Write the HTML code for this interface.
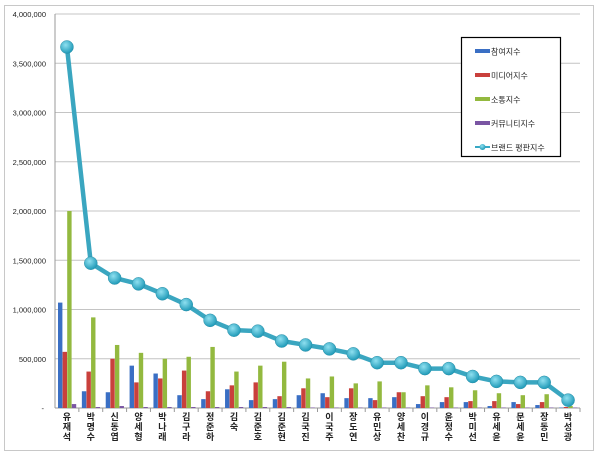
<!DOCTYPE html>
<html><head><meta charset="utf-8"><style>
body{margin:0;background:#fff;}
svg text{font-family:"Liberation Sans","Noto Sans CJK KR",sans-serif;}
</style></head><body>
<svg id="s" width="600" height="455" xmlns="http://www.w3.org/2000/svg">
<defs>
<radialGradient id="m" cx="40%" cy="35%" r="65%"><stop offset="0" stop-color="#8fe0f0"/><stop offset="1" stop-color="#1f9ab8"/></radialGradient>
</defs>
<rect x="4.5" y="5.5" width="589" height="445" fill="#fff" stroke="#c8c8c8"/>
</svg>
<script>
const s=document.getElementById('s');const NS='http://www.w3.org/2000/svg';
function el(t,a,txt){const e=document.createElementNS(NS,t);for(const k in a)e.setAttribute(k,a[k]);if(txt!==undefined)e.textContent=txt;s.appendChild(e);return e;}
const L=55,R=580,T=14,B=408;const Y=v=>B-(v/4e6)*(B-T);
const ticks=['-','500,000','1,000,000','1,500,000','2,000,000','2,500,000','3,000,000','3,500,000','4,000,000'];
for(let i=0;i<=8;i++){const y=Y(i*5e5);if(i>0)el('line',{x1:L,x2:R,y1:y,y2:y,stroke:'#c4c4c4','stroke-width':1});
el('text',{x:i==0?44:46,y:y+3,'font-size':7.5,'text-anchor':'end',fill:'#222'},ticks[i]);}
el('line',{x1:L,x2:L,y1:T,y2:B,stroke:'#999'});el('line',{x1:L,x2:R,y1:B,y2:B,stroke:'#999'});
const names=['유재석','박명수','신동엽','양세형','박나래','김구라','정준하','김숙','김준호','김준현','김국진','이국주','장도연','유민상','양세찬','이경규','윤정수','박미선','유세윤','문세윤','장동민','박성광'];
const line=[3.665,1.47,1.32,1.26,1.16,1.05,0.89,0.79,0.78,0.68,0.64,0.6,0.55,0.46,0.46,0.4,0.4,0.32,0.27,0.26,0.26,0.08];
const bars=[[1.07,.57,2.0,.04],[.17,.37,.92,.01],[.16,.5,.64,.02],[.43,.26,.56,.01],[.35,.3,.5,.01],[.13,.38,.52,.01],[.09,.17,.62,.01],[.19,.23,.37,.01],[.08,.26,.43,.01],[.09,.12,.47,.01],[.13,.2,.3,.005],[.15,.11,.32,.005],[.1,.2,.25,.005],[.1,.08,.27,.005],[.11,.16,.16,.005],[.04,.12,.23,.005],[.06,.11,.21,.005],[.06,.07,.18,.005],[.02,.07,.15,.005],[.06,.04,.13,.005],[.03,.06,.14,.005],[.005,.01,.02,.005]];
const cols=['#3a6fc4','#c9403c','#93b93f','#7a55a3'];
const w=(R-L)/22;
for(let i=0;i<22;i++){const x0=L+i*w;el('line',{x1:x0+w,x2:x0+w,y1:B,y2:B+4,stroke:'#999'});
for(let j=0;j<4;j++){const v=bars[i][j]*1e6;const y=Y(v);el('rect',{x:x0+3+j*4.6,y:y,width:4.4,height:B-y,fill:cols[j]});}
const cx=x0+w/2;const n=names[i];for(let k=0;k<n.length;k++)el('text',{x:cx,y:420+k*10,'font-size':9,'text-anchor':'middle',fill:'#222','font-weight':'bold'},n[k]);}
el('polyline',{points:line.map((v,i)=>(L+i*w+w/2)+','+Y(v*1e6)).join(' '),fill:'none',stroke:'#3aa6c0','stroke-width':4.5,'stroke-linejoin':'round'});
line.forEach((v,i)=>el('circle',{cx:L+i*w+w/2,cy:Y(v*1e6),r:6.5,fill:'url(#m)',stroke:'#2a8fa8','stroke-width':0.5}));
el('rect',{x:461.5,y:37.5,width:99,height:119,fill:'#fff',stroke:'#000','stroke-width':1.2});
const lg=['참여지수','미디어지수','소통지수','커뮤니티지수','브랜드 평판지수'];
lg.forEach((t,i)=>{const y=51+i*24;if(i<4)el('rect',{x:475,y:y-2,width:15,height:4,fill:cols[i]});else{el('line',{x1:475,x2:490,y1:y,y2:y,stroke:'#37a8c4','stroke-width':2});el('circle',{cx:482.5,cy:y,r:3,fill:'url(#m)'});}
el('text',{x:491,y:y+3.5,'font-size':8,fill:'#222'},t);});
</script>
</body></html>
